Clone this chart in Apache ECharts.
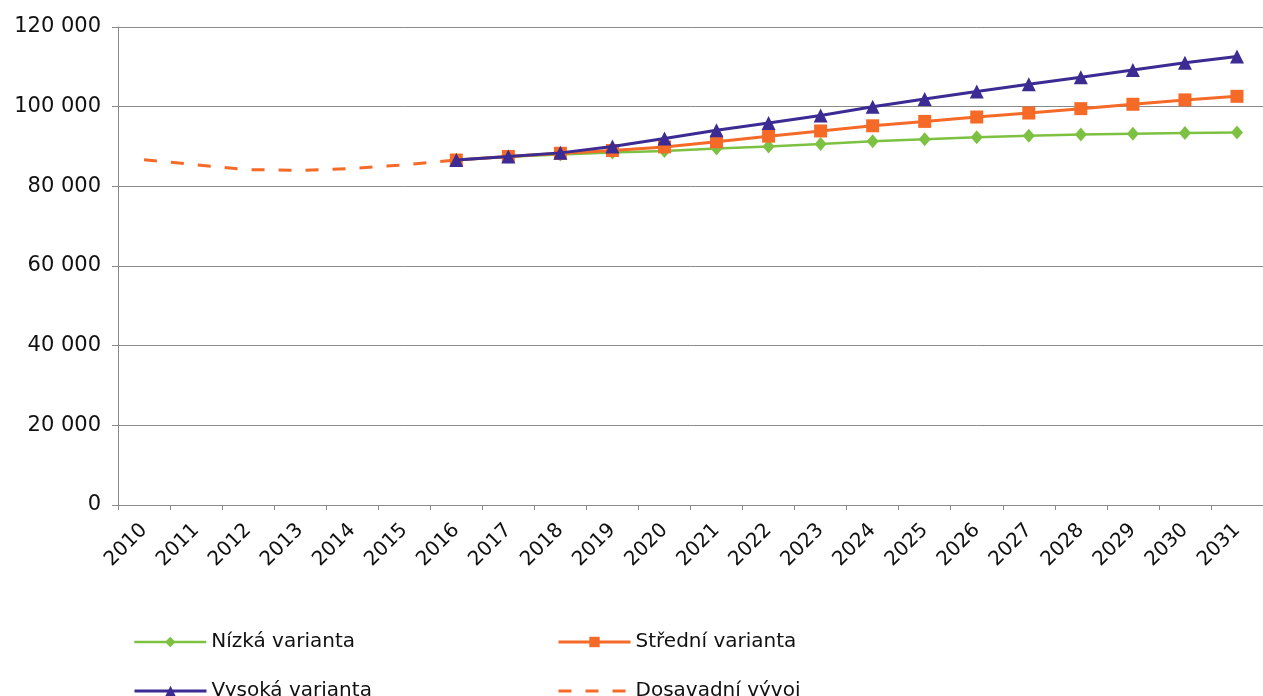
<!DOCTYPE html>
<html>
<head>
<meta charset="utf-8">
<script src="https://cdn.jsdelivr.net/npm/echarts@6/dist/echarts.min.js"></script>
<style>
html,body{margin:0;padding:0;background:#fff;}
#chart{width:1263px;height:696px;}
</style>
</head>
<body>
<div id="chart"></div>
<script>
const years = ['2010','2011','2012','2013','2014','2015','2016','2017','2018','2019','2020','2021','2022','2023','2024','2025','2026','2027','2028','2029','2030','2031'];
const dosavadniVyvoj = [86700, 85400, 84200, 84000, 84500, 85400, 86600];
const nizkaVarianta = [86600, 87400, 88000, 88500, 88900, 89500, 90000, 90600, 91300, 91800, 92300, 92700, 93000, 93200, 93400, 93500];
const stredniVarianta = [86600, 87500, 88300, 89000, 89900, 91200, 92600, 93900, 95200, 96300, 97400, 98400, 99500, 100600, 101700, 102600];
const vysokaVarianta = [86600, 87500, 88400, 90000, 92000, 94100, 95900, 97800, 100000, 101900, 103800, 105600, 107400, 109200, 111000, 112600];
const yTicks = [0, 20000, 40000, 60000, 80000, 100000, 120000];

const projStart = years.indexOf('2016');
function fullSeries(vals, start) {
  return years.map((y, i) => (i >= start && i - start < vals.length) ? vals[i - start] : '-');
}

const FONT = 'DejaVu Sans';
const cGreen = '#7DC143', cOrange = '#F66A28', cPurple = '#3B2B92';

function legendItem(item, left, top, lw) {
  return {
    data: [item],
    orient: 'horizontal', left: left, top: top,
    itemWidth: 72, itemHeight: 13, itemGap: 0,
    lineStyle: {width: lw},
    textStyle: {fontFamily: FONT, fontSize: 20, color: '#111'}
  };
}

const chart = echarts.init(document.getElementById('chart'), null, {renderer: 'canvas'});
chart.setOption({
  backgroundColor: '#ffffff',
  animation: false,
  textStyle: {fontFamily: FONT, color: '#111'},
  grid: {left: 118, right: -8, top: 27, bottom: 191, containLabel: false},
  legend: [
    legendItem('Nízká varianta', 128, 627, 2.5),
    legendItem('Vysoká varianta', 128, 676, 3),
    legendItem('Střední varianta', 552, 627, 3),
    legendItem({name: 'Dosavadní vývoj', itemStyle: {opacity: 0}}, 552, 676, 3)
  ],
  xAxis: {
    type: 'category',
    data: years,
    boundaryGap: true,
    axisLine: {show: true, lineStyle: {color: '#8a8a8a', width: 1}},
    axisTick: {show: true, length: 5, alignWithLabel: false, lineStyle: {color: '#8a8a8a'}},
    axisLabel: {interval: 0, rotate: 45, margin: 22, fontFamily: FONT, fontSize: 20, color: '#111'},
    splitLine: {show: false}
  },
  yAxis: {
    type: 'value',
    min: yTicks[0], max: yTicks[yTicks.length - 1], interval: yTicks[1] - yTicks[0],
    axisLine: {show: true, lineStyle: {color: '#8a8a8a', width: 1}},
    axisTick: {show: true, length: 6, lineStyle: {color: '#8a8a8a'}},
    axisLabel: {
      margin: 17, fontFamily: FONT, fontSize: 21, color: '#111',
      formatter: v => String(v).replace(/\B(?=(\d{3})+(?!\d))/g, ' ')
    },
    splitLine: {show: true, lineStyle: {color: '#8a8a8a', width: 1}}
  },
  series: [
    {
      name: 'Dosavadní vývoj', type: 'line',
      data: fullSeries(dosavadniVyvoj, 0),
      symbol: 'none', smooth: false,
      lineStyle: {color: cOrange, width: 3, type: [13, 14]},
      itemStyle: {color: cOrange},
      z: 1
    },
    {
      name: 'Nízká varianta', type: 'line',
      data: fullSeries(nizkaVarianta, projStart),
      symbol: 'diamond', symbolSize: [12, 14],
      lineStyle: {color: cGreen, width: 2.5},
      itemStyle: {color: cGreen},
      z: 2
    },
    {
      name: 'Střední varianta', type: 'line',
      data: fullSeries(stredniVarianta, projStart),
      symbol: 'rect', symbolSize: 13,
      lineStyle: {color: cOrange, width: 3},
      itemStyle: {color: cOrange},
      z: 3
    },
    {
      name: 'Vysoká varianta', type: 'line',
      data: fullSeries(vysokaVarianta, projStart),
      symbol: 'triangle', symbolSize: 14,
      lineStyle: {color: cPurple, width: 3},
      itemStyle: {color: cPurple},
      z: 4
    }
  ]
});
</script>
</body>
</html>
